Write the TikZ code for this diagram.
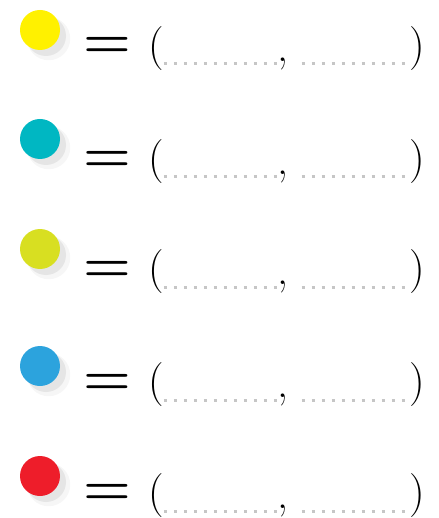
\documentclass[tikz,border=0pt]{standalone}
\usepackage{tikz}
\usetikzlibrary{positioning,shadows}
\definecolor{sun}{HTML}{FFF100}
\definecolor{lagoon}{HTML}{00B7C2}
\definecolor{lime}{HTML}{D8DF21}
\definecolor{sky}{HTML}{2CA3DD}
\definecolor{cherry}{HTML}{EE1D2A}
\tikzset{
  ball/.style={circle, minimum size=40pt, inner sep=0pt,
               drop shadow={shadow xshift=8pt, shadow yshift=-8pt, shadow scale=1.08, fill=gray!14},
               drop shadow={shadow xshift=6pt, shadow yshift=-6pt, fill=gray!32}},
  eqsign/.style={inner sep=0pt, font=\fontsize{52}{52}\selectfont\bfseries},
  paren/.style={inner sep=0pt, font=\fontsize{44}{44}\selectfont},
  dotline/.style={draw=gray!45, line width=3pt, dash pattern=on 3pt off 7pt}
}

\begin{document}
\begin{tikzpicture}[x=1pt, y=1pt]
 \useasboundingbox (0,0) rectangle (438,-518);
 % rows: colour disc = ( ... , ... )
 \node[ball, fill=sun] (c1) at (40,-30) {};
 \node[eqsign] (e1) at (107.5,-47) {\scalebox{1.05}[1]{=}};
 \node[paren] (l1) at (156,-49) {(}; \node[paren] (r1) at (417,-49) {)}; \node[paren] (m1) at (283,-64) {,};

 \node[ball, fill=lagoon] (c2) at (40,-139) {};
 \node[eqsign] (e2) at (107.5,-161) {\scalebox{1.05}[1]{=}};
 \node[paren] (l2) at (156,-162) {(}; \node[paren] (r2) at (417,-162) {)}; \node[paren] (m2) at (283,-177) {,};

 \node[ball, fill=lime] (c3) at (40,-249) {};
 \node[eqsign] (e3) at (107.5,-271) {\scalebox{1.05}[1]{=}};
 \node[paren] (l3) at (156,-272) {(}; \node[paren] (r3) at (417,-272) {)}; \node[paren] (m3) at (283,-287) {,};

 \node[ball, fill=sky] (c4) at (40,-366) {};
 \node[eqsign] (e4) at (107.5,-384) {\scalebox{1.05}[1]{=}};
 \node[paren] (l4) at (156,-385) {(}; \node[paren] (r4) at (417,-385) {)}; \node[paren] (m4) at (283,-400) {,};

 \node[ball, fill=cherry] (c5) at (40,-476) {};
 \node[eqsign] (e5) at (107.5,-494) {\scalebox{1.05}[1]{=}};
 \node[paren] (l5) at (156,-496) {(}; \node[paren] (r5) at (417,-496) {)}; \node[paren] (m5) at (283,-511) {,};

 \draw[dotline](l1.east|-m1)--(m1.west);\draw[dotline]([xshift=13pt]m1.east)--(r1.west|-m1);
 \draw[dotline](l2.east|-m2)--(m2.west);\draw[dotline]([xshift=13pt]m2.east)--(r2.west|-m2);
 \draw[dotline](l3.east|-m3)--(m3.west);\draw[dotline]([xshift=13pt]m3.east)--(r3.west|-m3);
 \draw[dotline](l4.east|-m4)--(m4.west);\draw[dotline]([xshift=13pt]m4.east)--(r4.west|-m4);
 \draw[dotline](l5.east|-m5)--(m5.west);\draw[dotline]([xshift=13pt]m5.east)--(r5.west|-m5);
\end{tikzpicture}
\end{document}
